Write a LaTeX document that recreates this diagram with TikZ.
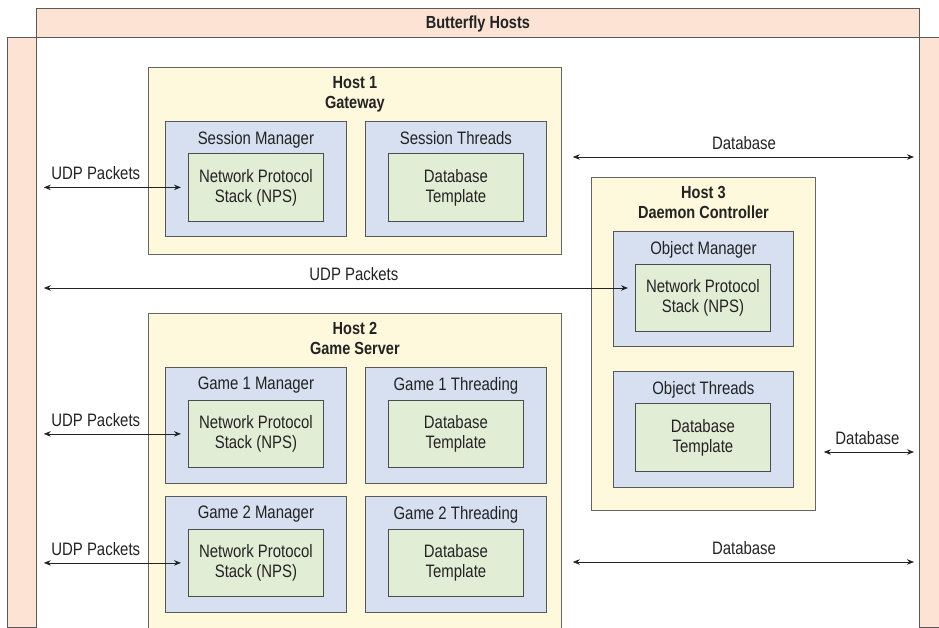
\documentclass[tikz,border=0pt]{standalone}
\usepackage{fontspec}
\setmainfont{Liberation Sans}[FakeStretch=0.83]
\usetikzlibrary{positioning}
\usetikzlibrary{arrows.meta}
\definecolor{barpeach}{RGB}{252,227,211}
\definecolor{hostyellow}{RGB}{254,248,220}
\definecolor{unitblue}{RGB}{214,224,240}
\definecolor{stackgreen}{RGB}{226,237,214}
\definecolor{inkgray}{RGB}{35,35,35}

\begin{document}
\begin{tikzpicture}[x=1pt, y=-1pt,
  every node/.style={font=\fontsize{18}{20}\selectfont, text=inkgray},
  bar/.style={draw=black!65, fill=barpeach, line width=0.8pt, anchor=north west, inner sep=0pt},
  hostbox/.style={draw=black!60, fill=hostyellow, line width=0.8pt, anchor=north west,
    minimum width=#1, inner sep=0pt},
  hostbox/.default=413pt,
  unit/.style={draw=black!65, fill=unitblue, line width=0.8pt, anchor=north west,
    minimum width=181pt, minimum height=115pt, inner sep=0pt},
  stack/.style={draw=black!70, fill=stackgreen, line width=0.8pt, anchor=north west,
    minimum width=135pt, minimum height=68pt, inner sep=0pt, align=center},
  title/.style={anchor=north, yshift=-6pt, align=center, font=\fontsize{17.5}{20}\selectfont\bfseries},
  head/.style={anchor=north, yshift=-6.5pt},
  link/.style={{Stealth[length=7pt,width=5.5pt]}-{Stealth[length=7pt,width=5.5pt]},
    draw=inkgray, line width=0.8pt},
  lbl/.style={above, inner sep=7pt}
]

\clip (0,0) rectangle (939,628);
\fill[white] (0,0) rectangle (939,628);

%frame of the hosts%
\node[bar, minimum width=883pt, minimum height=29pt] (banner) at (36,8) {};
\node at ([yshift=-1pt]banner.center) [font=\fontsize{17.5}{20}\selectfont\bfseries] {Butterfly Hosts};
\node[bar, minimum width=29pt, minimum height=590pt] (leftbar) at (7,37) {};
\node[bar, minimum width=40pt, minimum height=590pt] (rightbar) at (919,37) {};

%Host 1%
\node[hostbox, minimum height=187pt, label={[title]north:{Host 1\\Gateway}}] (host1) at (148,67) {};
\node[unit, label={[head]north:Session Manager}] (sm) at (165,121) {};
\node[stack] (nps1) at (188,153) {Network Protocol\\Stack (NPS)};
\node[unit, label={[head]north:Session Threads}] (st) at (365,121) {};
\node[stack] (dbt1) at (388,153) {Database\\Template};

%Host 3%
\node[hostbox=224pt, minimum height=333pt, label={[title]north:{Host 3\\Daemon Controller}}] (host3) at (591,177) {};
\node[unit, minimum width=180pt, label={[head]north:Object Manager}] (om) at (613,231) {};
\node[stack, minimum height=67pt] (nps3) at (635,264) {Network Protocol\\Stack (NPS)};
\node[unit, minimum width=180pt, minimum height=116pt, label={[head]north:Object Threads}] (ot) at (613,371) {};
\node[stack] (dbt3) at (635,403) {Database\\Template};

%Host 2%
\node[hostbox, minimum height=330pt, label={[title]north:{Host 2\\Game Server}}] (host2) at (148,313) {};
\foreach \n/\y in {1/367,2/496}
{
\node[unit, minimum height=116pt, label={[head]north:Game \n\ Manager}] (gm\n) at (165,\y) {};
\node[stack, minimum height=67pt] (nps2\n) at (188,\y+33) {Network Protocol\\Stack (NPS)};
\node[unit, minimum height=116pt, label={[head]north:Game \n\ Threading}] (gt\n) at (365,\y) {};
\node[stack, minimum height=67pt] (dbt2\n) at (388,\y+33) {Database\\Template};
}

%UDP packets%
\foreach \s in {nps1,nps21,nps22}
\draw[link, shorten <=7pt, shorten >=7pt] (\s.west -| leftbar.east) -- node[lbl, pos=0.39] {UDP Packets} (\s.west);
\coordinate (udp3) at (600,288);
\draw[link, shorten <=7pt, shorten >=7pt] (leftbar.east |- udp3) -- node[lbl, pos=0.53] {UDP Packets} (nps3.west |- udp3);

%Database links%
\coordinate (db1) at (600,157);
\coordinate (db2) at (600,562);
\coordinate (db3) at (850,452);
\draw[link, shorten <=11pt, shorten >=5pt] (host1.east |- db1) -- node[lbl, pos=0.51] {Database} (rightbar.west |- db1);
\draw[link, shorten <=11pt, shorten >=5pt] (host2.east |- db2) -- node[lbl, pos=0.51] {Database} (rightbar.west |- db2);
\draw[link, shorten <=8pt, shorten >=5pt] (host3.east |- db3) -- node[lbl] {Database} (rightbar.west |- db3);

\end{tikzpicture}
\end{document}
